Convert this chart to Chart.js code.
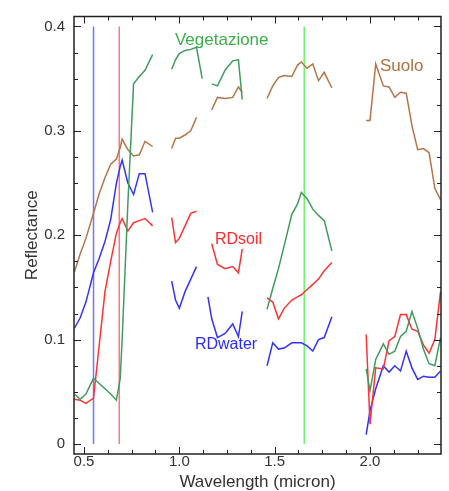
<!DOCTYPE html>
<html><head><meta charset="utf-8">
<script src="https://cdn.jsdelivr.net/npm/chart.js@4/dist/chart.umd.min.js"></script>
<style>html,body{margin:0;padding:0;background:#fff}canvas{display:block}</style>
</head><body>
<canvas id="c" width="449" height="491"></canvas>
<script>
// ---- data ----
const wavelength = [
  0.45,0.48,0.51,0.55,0.58,0.61,0.64,0.67,0.69,0.70,0.73,0.76,0.79,0.82,0.86,
  0.91,
  0.96,0.98,1.00,1.03,1.06,1.09,1.12,
  1.15,1.17,1.20,1.24,1.28,1.31,1.33,
  1.40,
  1.46,1.49,1.52,1.55,1.59,1.62,1.64,1.67,1.70,1.73,1.76,1.80,
  1.90,
  1.98,2.00,2.03,2.07,2.10,2.13,2.16,2.19,2.22,2.25,2.28,2.31,2.34,2.37
];
const vegetazione = [
  0.048,0.043,0.048,0.063,0.058,0.053,0.048,0.042,0.063,0.100,0.230,0.345,0.352,0.358,0.373,
  null,
  0.359,0.368,0.374,0.377,0.378,0.380,0.350,
  null,0.345,0.343,0.358,0.367,0.368,0.330,
  null,
  0.129,0.149,0.168,0.190,0.220,0.230,0.241,0.235,0.225,0.219,0.214,0.185,
  null,
  0.072,0.051,0.081,0.096,0.086,0.089,0.103,0.108,0.127,0.111,0.091,0.077,0.075,0.102
];
const suolo = [
  0.165,0.182,0.197,0.221,0.240,0.255,0.268,0.273,0.284,0.292,0.282,0.276,0.277,0.290,0.285,
  null,
  0.283,0.293,0.293,0.296,0.300,0.313,null,
  null,0.320,0.332,0.331,0.332,0.342,0.337,
  null,
  0.331,0.343,0.351,0.353,0.352,0.363,0.366,0.360,0.364,0.348,0.356,0.341,
  null,
  0.310,0.310,0.364,0.343,0.342,0.332,0.337,0.336,0.305,0.282,0.283,0.279,0.245,0.234
];
const rdSoil = [
  0.043,0.042,0.039,0.044,0.095,0.146,0.175,0.202,0.212,0.216,0.204,0.212,0.214,0.216,0.209,
  null,
  0.217,0.193,0.197,0.209,0.221,0.223,null,
  null,0.192,0.172,0.168,0.170,0.164,0.187,
  null,
  0.140,0.136,0.120,0.130,0.138,0.141,0.143,0.148,0.153,0.158,0.166,0.174,
  null,
  0.105,0.019,0.073,0.072,0.099,0.103,0.124,0.124,0.110,0.108,0.095,0.087,0.100,0.146
];
const rdWater = [
  0.111,0.121,0.136,0.164,0.178,0.194,0.215,0.250,0.266,0.272,0.250,0.239,0.259,0.259,0.222,
  null,
  0.156,0.138,0.130,0.146,0.158,0.170,null,
  0.141,0.120,0.102,0.106,0.115,0.103,0.127,
  null,
  0.075,0.097,0.091,0.092,0.097,0.097,0.097,0.094,0.089,0.100,0.102,0.122,
  null,
  0.009,0.032,0.053,0.075,0.069,0.075,0.070,0.089,0.073,0.062,0.065,0.064,0.064,0.070
];
const markerWavelengths = [0.55, 0.685, 1.655];
const xTickValues = [0.5, 1.0, 1.5, 2.0];
const yTickValues = [0, 0.1, 0.2, 0.3, 0.4];
const seriesNames = ['Vegetazione', 'Suolo', 'RDsoil', 'RDwater'];

// ---- styling / layout ----
const FONT = '"Liberation Sans", Arial, Helvetica, sans-serif';
const COLORS = {
  veg: '#3f9c5e', soil: '#b5754a', rdsoil: '#ff3333', rdwater: '#3333ff',
  vegText: '#3cae4a', soilText: '#b07040', rdsoilText: '#ff2a2a', rdwaterText: '#2a2aff'
};
const markerColors = ['#7474ff', '#ff7878', '#6cf56c'];

const toPts = arr => wavelength.map((w, i) => ({x: w, y: arr[i]}));
const line = (label, arr, color) => ({
  label, data: toPts(arr), borderColor: color, borderWidth: 1.5,
  pointRadius: 0, fill: false, tension: 0, spanGaps: false
});

const datasets = [
  line(seriesNames[0], vegetazione, COLORS.veg),
  line(seriesNames[1], suolo, COLORS.soil),
  line(seriesNames[2], rdSoil, COLORS.rdsoil),
  line(seriesNames[3], rdWater, COLORS.rdwater),
  ...markerWavelengths.map((w, i) => ({
    label: 'marker' + i,
    data: [{x: w, y: 0}, {x: w, y: 0.4}],
    borderColor: markerColors[i], borderWidth: 1.5, pointRadius: 0, fill: false
  }))
];

const labelPlacements = [
  {text: seriesNames[0], x: 0.977, y: 0.387, color: COLORS.vegText, size: 17},
  {text: seriesNames[1], x: 2.052, y: 0.3614, color: COLORS.soilText, size: 17},
  {text: seriesNames[2], x: 1.187, y: 0.1955, color: COLORS.rdsoilText, size: 16},
  {text: seriesNames[3], x: 1.082, y: 0.0956, color: COLORS.rdwaterText, size: 16}
];

const framePlugin = {
  id: 'frame',
  afterDraw(chart) {
    const {ctx, chartArea: {left, right, top, bottom}, scales: {x, y}} = chart;
    ctx.save();
    ctx.strokeStyle = '#222';
    ctx.lineWidth = 1;
    const MAJ = 7, MIN = 4;
    // x ticks (bottom & top, inward)
    for (let k = 0; ; k++) {
      const v = 0.5 + k * 0.125;
      if (v > x.max) break;
      const major = xTickValues.some(t => Math.abs(t - v) < 1e-6);
      const len = major ? MAJ : MIN;
      const px = Math.round(x.getPixelForValue(v)) + 0.5;
      ctx.beginPath();
      ctx.moveTo(px, bottom); ctx.lineTo(px, bottom - len);
      ctx.moveTo(px, top); ctx.lineTo(px, top + len);
      ctx.stroke();
    }
    // y ticks (left & right, inward)
    for (let k = 0; ; k++) {
      const v = k * 0.025;
      if (v > y.max) break;
      const major = yTickValues.some(t => Math.abs(t - v) < 1e-6);
      const len = major ? MAJ : MIN;
      const py = Math.round(y.getPixelForValue(v)) + 0.5;
      ctx.beginPath();
      ctx.moveTo(left, py); ctx.lineTo(left + len, py);
      ctx.moveTo(right, py); ctx.lineTo(right - len, py);
      ctx.stroke();
    }
    ctx.lineWidth = 1.5;
    ctx.strokeRect(left, top, right - left, bottom - top);
    // series name labels
    ctx.textAlign = 'left';
    ctx.textBaseline = 'middle';
    labelPlacements.forEach(l => {
      ctx.font = l.size + 'px ' + FONT;
      ctx.fillStyle = l.color;
      ctx.fillText(l.text, x.getPixelForValue(l.x), y.getPixelForValue(l.y));
    });
    ctx.restore();
  }
};

new Chart(document.getElementById('c'), {
  type: 'line',
  data: {datasets},
  options: {
    responsive: false,
    devicePixelRatio: 1,
    animation: false,
    events: [],
    layout: {padding: {top: 12, right: 8, bottom: 0, left: 0}},
    plugins: {legend: {display: false}, tooltip: {enabled: false}},
    scales: {
      x: {
        type: 'linear', min: 0.4476, max: 2.3724,
        afterBuildTicks: s => { s.ticks = xTickValues.map(v => ({value: v})); },
        afterFit: s => { s.height = 37; },
        grid: {display: false, drawTicks: false},
        border: {display: false},
        ticks: {
          padding: 0.5, maxRotation: 0, autoSkip: false, color: '#333',
          font: {family: FONT, size: 15, lineHeight: 1},
          callback: v => Number(v).toFixed(1)
        },
        title: {
          display: true, text: 'Wavelength (micron)', color: '#333',
          font: {family: FONT, size: 17, lineHeight: 1}, padding: {top: 0, bottom: 0}
        }
      },
      y: {
        type: 'linear', min: -0.0095, max: 0.4095,
        afterBuildTicks: s => { s.ticks = yTickValues.map(v => ({value: v})); },
        afterFit: s => { s.width = 74; },
        grid: {display: false, drawTicks: false},
        border: {display: false},
        ticks: {
          padding: 9, color: '#333',
          font: {family: FONT, size: 15, lineHeight: 1},
          callback: v => (v === 0 ? '0' : Number(v).toFixed(1))
        },
        title: {
          display: true, text: 'Reflectance', color: '#333',
          font: {family: FONT, size: 17, lineHeight: 1}, padding: {top: 23.5, bottom: 0}
        }
      }
    }
  },
  plugins: [framePlugin]
});
</script>
</body></html>
